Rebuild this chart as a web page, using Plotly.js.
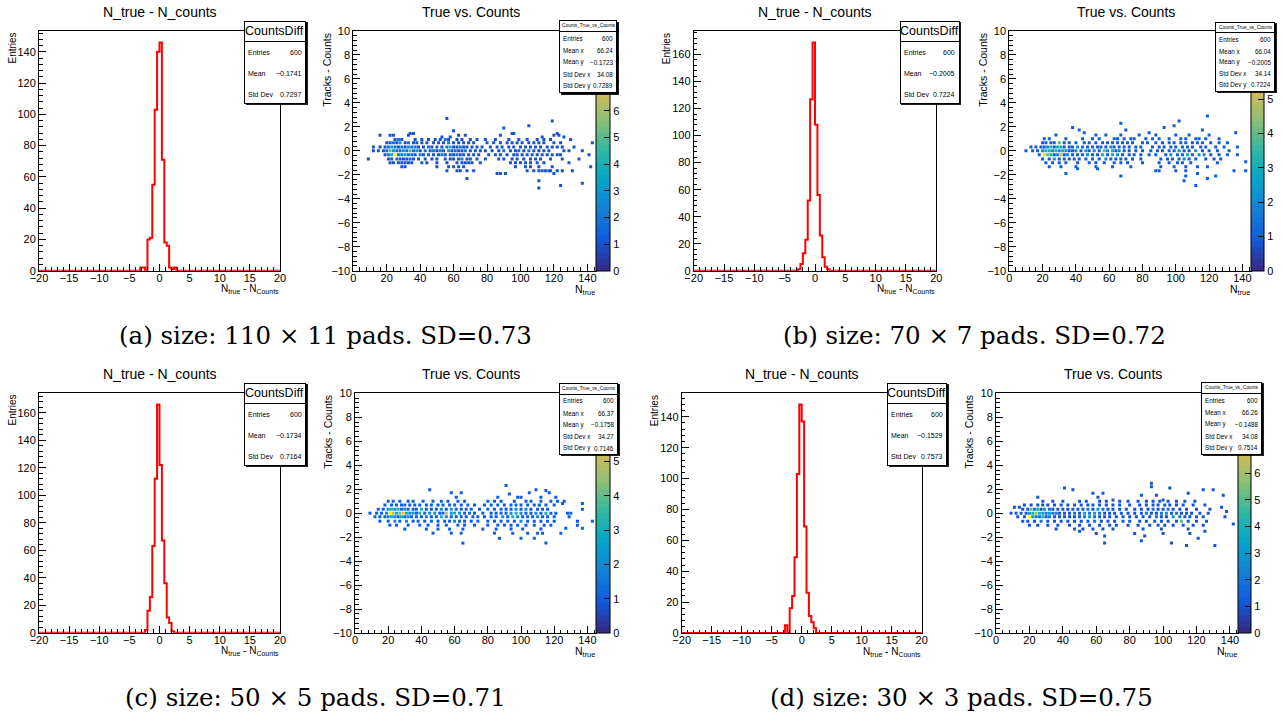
<!DOCTYPE html>
<html>
<head>
<meta charset="utf-8">
<script src="https://cdn.plot.ly/plotly-3.0.1.min.js"></script>
<style>html,body{margin:0;padding:0;background:#fff;}#chart{width:1283px;height:722px;}</style>
</head>
<body>
<div id="chart"></div>
<script>
// ================= DATA =================
const histBinWidth = 0.4; // 100 bins on [-20, 20]
const histA_left  = [-3.2, -2.8, -2.0, -1.6, -1.2, -0.8, -0.4, 0.0, 0.4, 0.8, 1.2, 1.6, 2.0, 2.4];
const histA_count = [2, 2, 20, 21, 55, 103, 140, 146, 71, 18, 16, 2, 1, 2];
const histB_left  = [-2.8, -2.4, -2.0, -1.6, -1.2, -0.8, -0.4, 0.0, 0.4, 0.8, 1.2, 1.6, 2.0];
const histB_count = [1, 5, 13, 23, 52, 127, 169, 108, 56, 26, 10, 3, 1];
const histC_left  = [-2.4, -2.0, -1.6, -1.2, -0.8, -0.4, 0.0, 0.4, 0.8, 1.2, 1.6, 2.0];
const histC_count = [2, 16, 26, 63, 112, 166, 122, 67, 36, 11, 7, 1];
const histD_left  = [-2.8, -2.0, -1.6, -1.2, -0.8, -0.4, 0.0, 0.4, 0.8, 1.2, 1.6, 2.0];
const histD_count = [5, 16, 24, 49, 103, 148, 137, 69, 26, 11, 7, 3];

// 2D "True vs. Counts": cells with one entry, grouped by row (y value)
const rowsA_y = [2.7, 2.5, 2.1, 1.9, 1.67, 1.45, 1.3, 1.15, 0.95, 0.67, 0.33, 0, -0.33, -0.67, -1.0, -1.33, -1.67, -1.9, -2.3, -2.5, -2.7, -2.9, -3.1];
const rowsA_x = [
  [56], [119], [105], [90], [60],
  [34, 36, 95, 96, 122],
  [16, 22, 24, 33, 63, 67, 88, 120, 123],
  [53, 58, 113, 126],
  [25, 29, 37, 41, 45, 49, 52, 57, 62, 65, 70, 74, 79, 85, 93, 99, 104, 110, 114, 118, 130],
  [20, 22, 26, 31, 36, 38, 41, 44, 48, 51, 54, 60, 63, 66, 69, 72, 80, 84, 88, 92, 95, 98, 101, 105, 108, 111, 114, 120, 124, 143],
  [12, 16, 19, 27, 31, 39, 42, 47, 50, 53, 60, 62, 66, 68, 71, 74, 77, 82, 86, 89, 93, 96, 100, 103, 106, 109, 112, 116, 119, 122, 125, 132],
  [12, 15, 18, 40, 46, 50, 54, 59, 63, 65, 70, 73, 76, 79, 83, 87, 94, 97, 102, 108, 111, 114, 117, 126, 129, 137],
  [19, 37, 42, 45, 48, 51, 55, 58, 60, 64, 66, 69, 72, 75, 81, 85, 88, 92, 96, 98, 101, 104, 107, 110, 113, 116, 119, 122, 124, 141],
  [9, 21, 23, 28, 30, 32, 36, 39, 43, 47, 50, 55, 58, 60, 63, 68, 70, 74, 79, 87, 90, 95, 98, 102, 106, 109, 112, 118, 125, 135],
  [22, 24, 27, 29, 31, 33, 35, 41, 44, 50, 56, 62, 65, 67, 69, 71, 76, 94, 97, 100, 103, 106, 110, 114, 129],
  [29, 31, 50, 57, 60, 63, 66, 97, 103, 106, 111, 119, 142],
  [56, 62, 64, 68, 72, 104, 108, 111, 113, 115, 117, 118, 122, 125, 131],
  [86, 88, 91, 120],
  [68], [111], [137], [124], [111]
];
// cells with more than one entry
const hotA_x = [27, 55, 24, 28, 33, 57, 21, 23, 25, 29, 33, 35, 37, 45, 56, 58, 64, 20, 22, 24, 26, 28, 30, 32, 34, 36, 38, 43, 48, 52, 57, 61, 67, 90, 99, 105, 21, 23, 25, 27, 29, 31, 33, 35, 40, 53, 62, 26, 34, 65];
const hotA_y = [0.95, 0.95, 0.67, 0.67, 0.67, 0.67, 0.33, 0.33, 0.33, 0.33, 0.33, 0.33, 0.33, 0.33, 0.33, 0.33, 0.33, 0, 0, 0, 0, 0, 0, 0, 0, 0, 0, 0, 0, 0, 0, 0, 0, 0, 0, 0, -0.33, -0.33, -0.33, -0.33, -0.33, -0.33, -0.33, -0.33, -0.33, -0.33, -0.33, -0.67, -0.67, -0.67];
const hotA_z = [2, 2, 2, 3, 2, 2, 2, 3, 2, 2, 3, 2, 2, 2, 2, 4, 2, 2, 5, 3, 2, 2, 3, 2, 5, 2, 3, 2, 2, 2, 3, 2, 2, 2, 2, 2, 2, 3, 9, 2, 2, 3, 2, 2, 2, 2, 2, 2, 2, 2];

const rowsB_y = [2.9, 2.5, 2.3, 2.1, 1.95, 1.75, 1.5, 1.33, 1.0, 0.67, 0.33, 0, -0.33, -0.67, -0.9, -1.0, -1.33, -1.5, -1.67, -1.9, -2.1, -2.3, -2.5, -2.9];
const rowsB_x = [
  [119], [102], [67], [99], [38, 93], [42, 70, 116], [45, 84, 136],
  [28, 52, 58, 67, 78, 88, 100, 108, 120],
  [21, 24, 34, 44, 50, 54, 63, 65, 69, 73, 75, 82, 86, 90, 96, 103, 106, 112, 114, 118, 126],
  [20, 22, 25, 27, 33, 36, 40, 45, 48, 52, 56, 59, 62, 65, 68, 71, 74, 80, 83, 88, 92, 96, 99, 103, 106, 110, 113, 116, 121, 126, 131],
  [13, 16, 19, 21, 27, 33, 36, 38, 44, 47, 50, 53, 55, 58, 63, 66, 69, 72, 76, 79, 86, 90, 93, 97, 100, 104, 107, 110, 115, 118, 124, 129, 137],
  [10, 14, 17, 36, 38, 43, 48, 54, 64, 69, 72, 76, 80, 85, 89, 92, 96, 99, 105, 108, 116, 120, 125, 132],
  [18, 27, 33, 38, 41, 44, 50, 53, 59, 68, 72, 75, 79, 84, 88, 94, 101, 104, 110, 121, 126, 131, 137],
  [20, 24, 30, 33, 36, 39, 42, 46, 50, 54, 61, 64, 67, 70, 74, 79, 91, 95, 98, 102, 108, 112, 118, 123, 127],
  [142],
  [22, 26, 30, 34, 41, 48, 52, 57, 63, 67, 71, 80, 90, 96, 101, 104, 109, 125],
  [24, 31, 40, 52, 62, 73, 91, 99, 106, 113, 119],
  [41, 53],
  [88, 90, 100, 106, 135, 142],
  [34, 113],
  [67, 106, 124],
  [119], [105], [112]
];
const hotB_x = [30, 23, 25, 29, 31, 41, 61, 20, 22, 24, 26, 28, 30, 32, 34, 40, 46, 51, 57, 59, 62, 66, 102, 112, 21, 23, 25, 29, 31, 35, 47, 56, 62, 65, 97, 107, 114, 117, 27, 58, 105];
const hotB_y = [0.67, 0.33, 0.33, 0.33, 0.33, 0.33, 0.33, 0, 0, 0, 0, 0, 0, 0, 0, 0, 0, 0, 0, 0, 0, 0, 0, 0, -0.33, -0.33, -0.33, -0.33, -0.33, -0.33, -0.33, -0.33, -0.33, -0.33, -0.33, -0.33, -0.33, -0.33, -0.67, -0.67, -0.67];
const hotB_z = [4, 2, 3, 3, 3, 2, 2, 2, 3, 3, 2, 3, 2, 3, 2, 2, 2, 2, 4, 2, 3, 2, 2, 2, 6, 4, 3, 2, 5, 2, 2, 3, 3, 2, 2, 3, 2, 2, 2, 2, 2];

const rowsC_y = [2.3, 1.95, 1.9, 1.7, 1.6, 1.33, 1.0, 0.8, 0.67, 0.33, 0, -0.3, -0.67, -1.0, -1.25, -1.33, -1.67, -2.1, -2.5];
const rowsC_x = [
  [91], [45, 109], [115], [58, 64, 105, 117], [93], [61, 86, 98, 100, 112, 121],
  [20, 23, 27, 32, 35, 41, 47, 52, 56, 62, 66, 80, 84, 88, 96, 103, 106, 112, 118, 122, 126],
  [125, 137],
  [18, 22, 25, 28, 30, 33, 36, 39, 43, 46, 50, 53, 57, 60, 64, 68, 72, 78, 82, 86, 90, 94, 97, 100, 104, 108, 111, 115, 120],
  [14, 17, 28, 32, 35, 37, 43, 46, 49, 55, 61, 64, 67, 70, 75, 80, 84, 88, 91, 94, 100, 106, 110, 113, 116, 137],
  [9, 13, 16, 37, 42, 51, 53, 66, 69, 72, 77, 82, 85, 88, 91, 103, 106, 112, 118, 121, 128, 130],
  [12, 15, 18, 26, 30, 34, 37, 40, 46, 49, 58, 61, 64, 67, 71, 74, 78, 82, 85, 92, 101, 104, 107, 113, 116, 120, 129],
  [15, 20, 27, 35, 38, 42, 46, 50, 54, 57, 63, 66, 70, 74, 80, 84, 88, 92, 96, 104, 108, 112, 116, 120, 134, 143],
  [21, 25, 32, 39, 44, 50, 55, 62, 66, 72, 80, 86, 90, 94, 98, 103, 108, 114, 118, 134],
  [127, 137],
  [30, 43, 50, 57, 65, 77, 85, 94, 101, 112],
  [47, 58, 64, 84, 95, 104, 110, 113, 124],
  [87, 100, 108],
  [65, 115]
];
const hotC_x = [20, 22, 24, 26, 30, 40, 52, 58, 97, 103, 19, 21, 23, 25, 27, 29, 31, 33, 35, 39, 45, 48, 55, 58, 60, 63, 94, 97, 100, 109, 115, 20, 22, 24, 28, 32, 43, 52, 55, 89, 95, 98, 110, 24, 31, 60, 100];
const hotC_y = [0.33, 0.33, 0.33, 0.33, 0.33, 0.33, 0.33, 0.33, 0.33, 0.33, 0, 0, 0, 0, 0, 0, 0, 0, 0, 0, 0, 0, 0, 0, 0, 0, 0, 0, 0, 0, 0, -0.3, -0.3, -0.3, -0.3, -0.3, -0.3, -0.3, -0.3, -0.3, -0.3, -0.3, -0.3, -0.67, -0.67, -0.67, -0.67];
const hotC_z = [2, 3, 2, 3, 2, 3, 2, 2, 2, 2, 2, 7, 5, 3, 4, 6, 3, 2, 2, 3, 2, 2, 5, 2, 3, 2, 2, 3, 2, 2, 3, 2, 3, 2, 3, 2, 2, 3, 2, 2, 3, 2, 2, 2, 2, 2, 2];

const rowsD_y = [2.5, 2.2, 2.1, 1.95, 1.67, 1.5, 1.33, 1.1, 1.0, 0.67, 0.5, 0.33, 0.14, 0, -0.3, -0.67, -0.9, -1.0, -1.33, -1.5, -1.7, -1.9, -2.1, -2.3, -2.5, -2.7];
const rowsD_x = [
  [93], [93], [41, 104], [46, 124, 130], [58, 64, 115], [87, 96, 136], [25, 61], [70, 100],
  [28, 34, 40, 50, 54, 62, 66, 74, 79, 85, 90, 94, 98, 103, 108, 113, 119],
  [17, 21, 25, 28, 31, 35, 39, 43, 47, 51, 55, 58, 62, 66, 70, 74, 80, 86, 90, 94, 97, 101, 104, 108, 112, 118, 125],
  [11, 14, 135],
  [16, 19, 27, 34, 37, 40, 43, 46, 49, 52, 58, 67, 70, 74, 78, 83, 87, 91, 97, 100, 106, 110, 114, 120, 128],
  [138],
  [9, 12, 15, 18, 38, 41, 44, 50, 65, 68, 71, 75, 79, 83, 87, 93, 96, 105, 111, 114, 117, 122, 127],
  [13, 17, 30, 35, 38, 41, 44, 47, 50, 62, 65, 68, 72, 76, 80, 84, 88, 92, 99, 102, 113, 116, 120, 124, 137],
  [16, 19, 23, 31, 35, 39, 43, 47, 51, 55, 63, 67, 71, 76, 80, 86, 90, 95, 99, 103, 108, 115, 120, 126],
  [142],
  [20, 25, 31, 37, 44, 50, 56, 62, 68, 72, 79, 85, 92, 97, 101, 106, 112, 118, 124],
  [36, 47, 52, 58, 64, 70, 88, 99, 115],
  [50, 125],
  [60, 83, 100, 116],
  [65, 89],
  [121], [87], [65, 105], [114, 131]
];
const hotD_x = [21, 23, 25, 29, 32, 55, 61, 64, 94, 103, 20, 22, 24, 26, 28, 30, 32, 34, 36, 47, 53, 56, 59, 62, 90, 99, 102, 108, 20, 22, 24, 26, 28, 32, 53, 56, 59, 96, 106, 110, 27, 59, 111];
const hotD_y = [0.33, 0.33, 0.33, 0.33, 0.33, 0.33, 0.33, 0.33, 0.33, 0.33, 0, 0, 0, 0, 0, 0, 0, 0, 0, 0, 0, 0, 0, 0, 0, 0, 0, 0, -0.3, -0.3, -0.3, -0.3, -0.3, -0.3, -0.3, -0.3, -0.3, -0.3, -0.3, -0.3, -0.67, -0.67, -0.67];
const hotD_z = [5, 2, 4, 3, 2, 2, 3, 2, 2, 2, 3, 4, 6, 4, 3, 2, 3, 2, 2, 2, 3, 2, 3, 2, 2, 2, 3, 2, 9, 3, 2, 2, 4, 2, 2, 3, 2, 2, 3, 2, 2, 2, 5];

const zMax = [9, 7, 7, 9];

// texts
const histTitle = 'N_true - N_counts';
const scatTitle = 'True vs. Counts';
const histXTitle = 'N<sub>true</sub> - N<sub>Counts</sub>';
const histYTitle = 'Entries';
const scatXTitle = 'N<sub>true</sub>';
const scatYTitle = 'Tracks - Counts';
const histStatsName = 'CountsDiff';
const scatStatsName = 'Counts_True_vs_Counts';
const histStatsLabels = ['Entries', 'Mean', 'Std Dev'];
const scatStatsLabels = ['Entries', 'Mean x', 'Mean y', 'Std Dev x', 'Std Dev y'];
const statsA_h = ['600', '\u22120.1741', '0.7297'];
const statsA_s = ['600', '66.24', '\u22120.1723', '34.08', '0.7289'];
const statsB_h = ['600', '\u22120.2005', '0.7224'];
const statsB_s = ['600', '66.04', '\u22120.2005', '34.14', '0.7224'];
const statsC_h = ['600', '\u22120.1734', '0.7164'];
const statsC_s = ['600', '66.37', '\u22120.1758', '34.27', '0.7146'];
const statsD_h = ['600', '\u22120.1529', '0.7573'];
const statsD_s = ['600', '66.26', '\u22120.1488', '34.08', '0.7514'];
const captions = [
  '(a) size: 110 \u00d7 11 pads. SD=0.73',
  '(b) size: 70 \u00d7 7 pads. SD=0.72',
  '(c) size: 50 \u00d7 5 pads. SD=0.71',
  '(d) size: 30 \u00d7 3 pads. SD=0.75'
];

// ================= DRAWING =================
const W = 1283, H = 722;
const FONT = "'Liberation Sans', Arial, Helvetica, sans-serif";
const SERIF = "'DejaVu Serif', 'Liberation Serif', serif";
const PX = v => v / W;
const PY = v => 1 - v / H;

// ROOT kBird palette, banded like ROOT contours
const BIRD = [[0.2082,0.1664,0.5293],[0.0592,0.3599,0.8684],[0.0780,0.5041,0.8385],[0.0232,0.6419,0.7914],[0.1802,0.7178,0.6425],[0.5301,0.7492,0.4662],[0.8186,0.7328,0.3499],[0.9956,0.7862,0.1968],[0.9764,0.9832,0.0539]];
function bird(t) {
  const s = t * (BIRD.length - 1);
  const i = Math.min(Math.floor(s), BIRD.length - 2);
  const f = s - i;
  const c = BIRD[i].map((v, k) => Math.round(255 * (v + (BIRD[i + 1][k] - v) * f)));
  return 'rgb(' + c.join(',') + ')';
}
function bandScale(n) {
  const s = [];
  for (let i = 0; i < n; i++) {
    const c = bird(i / (n - 1));
    s.push([i / n, c], [(i + 1) / n, c]);
  }
  return s;
}
const SCALE = bandScale(40);

// frames [left, right, top, bottom] in px
const FR = {
  aH: [39, 280, 31, 270.7], aS: [353.3, 595.7, 31, 270.7],
  bH: [693.7, 936.3, 31, 270.7], bS: [1009.3, 1250.7, 31, 270.7],
  cH: [39, 280, 393, 632.7], cS: [355, 595.7, 393.3, 633],
  dH: [681.7, 921.7, 393, 633], dS: [996, 1238.3, 393.3, 633]
};
const CB = { a: [595.7, 610], b: [1250.7, 1263.3], c: [595.7, 610], d: [1238.3, 1251.7] };

function baseAxis(extra) {
  return Object.assign({
    showline: true, mirror: true, linecolor: '#000', linewidth: 1,
    showgrid: false, zeroline: false, ticks: 'inside', ticklen: 7, tickwidth: 1, tickcolor: '#000',
    tickfont: { family: FONT, size: 11, color: '#000' }, automargin: false, fixedrange: true, tickangle: 0
  }, extra);
}

const traces = [];
const layout = {
  width: W, height: H, margin: { l: 0, r: 0, t: 0, b: 0 },
  paper_bgcolor: '#fff', plot_bgcolor: '#fff', showlegend: false,
  annotations: []
};
const ann = layout.annotations;

function T(text, x, y, o) {
  const a = {
    text: text, x: PX(x), y: PY(y), xref: 'paper', yref: 'paper', showarrow: false,
    xanchor: 'center', yanchor: 'middle', borderpad: 0,
    font: { family: FONT, size: 11, color: '#000' }
  };
  return Object.assign(a, o || {});
}
function box(l, t, r, b, bg, bw) {
  ann.push(T(' ', l, t, { xanchor: 'left', yanchor: 'top', width: Math.max(1, r - l - 2 * bw), height: Math.max(1, b - t - 2 * bw),
    bgcolor: bg, bordercolor: '#000', borderwidth: bw, font: { family: FONT, size: 1, color: '#000' } }));
}

function addHist(idx, fr, lefts, counts, stats, statBox) {
  const xa = 'x' + idx, ya = 'y' + idx;
  const n = Math.round(40 / histBinWidth);
  const c = new Array(n).fill(0);
  lefts.forEach((l, i) => { c[Math.round((l + 20) / histBinWidth)] = counts[i]; });
  const x = [], y = [];
  for (let i = 0; i < n; i++) { x.push(-20 + i * histBinWidth); y.push(c[i]); }
  x.push(20); y.push(c[n - 1]);
  traces.push({ type: 'scatter', mode: 'lines', x: x, y: y, xaxis: xa, yaxis: ya,
    line: { shape: 'hv', color: '#ff0000', width: 2 }, hoverinfo: 'skip' });
  const ymax = Math.max.apply(null, counts) * 1.05;
  layout['xaxis' + idx] = baseAxis({ domain: [PX(fr[0]), PX(fr[1])], anchor: ya, range: [-20, 20], dtick: 5, tick0: 0,
    ticklabelstandoff: -3,
    minor: { dtick: 1, tick0: 0, ticks: 'inside', ticklen: 3.5, tickwidth: 1, tickcolor: '#000', showgrid: false } });
  layout['yaxis' + idx] = baseAxis({ domain: [PY(fr[3]), PY(fr[2])], anchor: xa, range: [0, ymax], dtick: 20, tick0: 0,
    minor: { dtick: 4, tick0: 0, ticks: 'inside', ticklen: 3.5, tickwidth: 1, tickcolor: '#000', showgrid: false } });
  // titles
  ann.push(T(histTitle, (fr[0] + fr[1]) / 2, fr[2] - 19, { font: { family: FONT, size: 14, color: '#000' } }));
  ann.push(T(histXTitle, fr[1], fr[3] + 18.5, { xanchor: 'right', font: { family: FONT, size: 10, color: '#000' } }));
  ann.push(T(histYTitle, fr[0] - 27, fr[2] + 1, { textangle: -90, yanchor: 'top', font: { family: FONT, size: 10, color: '#000' } }));
  // stats box
  const [l, r, t, b] = statBox;
  const h = b - t;
  box(l + 1.5, t + 1.5, r + 1.5, b + 1.5, '#000', 0.5);
  box(l, t, r, b, '#fff', 1);
  box(l, t, r, t + h * 0.252, 'rgba(0,0,0,0)', 1);
  ann.push(T(histStatsName, (l + r) / 2, t + h * 0.128, { font: { family: FONT, size: 12.5, color: '#000' } }));
  [0.379, 0.631, 0.883].forEach((f, i) => {
    ann.push(T(histStatsLabels[i], l + 3, t + h * f, { xanchor: 'left', font: { family: FONT, size: 7, color: '#000' } }));
    ann.push(T(stats[i], r - 3, t + h * f, { xanchor: 'right', font: { family: FONT, size: 7, color: '#000' } }));
  });
}

function addScat(idx, fr, cb, rowsY, rowsX, hx, hy, hz, zmax, stats, statBox) {
  const xa = 'x' + idx, ya = 'y' + idx;
  const x = [], y = [], z = [];
  rowsY.forEach((yy, i) => rowsX[i].forEach(xx => { x.push(xx); y.push(yy); z.push(1); }));
  const order = hz.map((v, i) => i).sort((a, b) => hz[a] - hz[b]);
  order.forEach(i => { x.push(hx[i]); y.push(hy[i]); z.push(hz[i]); });
  const tv = []; for (let k = 0; k <= zmax; k++) tv.push(k);
  traces.push({ type: 'scatter', mode: 'markers', x: x, y: y, xaxis: xa, yaxis: ya, hoverinfo: 'skip',
    marker: { symbol: 'square', size: 3, color: z, colorscale: SCALE, cmin: 0, cmax: zmax, line: { width: 0 },
      showscale: true,
      colorbar: { x: PX(cb[0]), xanchor: 'left', xref: 'paper', y: PY(fr[3]), yanchor: 'bottom', yref: 'paper',
        len: fr[3] - fr[2], lenmode: 'pixels', thickness: cb[1] - cb[0], thicknessmode: 'pixels',
        xpad: 0, ypad: 0, outlinewidth: 1, outlinecolor: '#000', borderwidth: 0,
        tickmode: 'array', tickvals: tv, ticks: 'inside', ticklen: 6, tickwidth: 1, tickcolor: '#000',
        tickfont: { family: FONT, size: 11, color: '#000' } } } });
  layout['xaxis' + idx] = baseAxis({ domain: [PX(fr[0]), PX(fr[1])], anchor: ya, range: [0, 145], dtick: 20, tick0: 0,
    ticklabelstandoff: -3,
    minor: { dtick: 4, tick0: 0, ticks: 'inside', ticklen: 3.5, tickwidth: 1, tickcolor: '#000', showgrid: false } });
  layout['yaxis' + idx] = baseAxis({ domain: [PY(fr[3]), PY(fr[2])], anchor: xa, range: [-10, 10], dtick: 2, tick0: 0,
    minor: { dtick: 0.4, tick0: 0, ticks: 'inside', ticklen: 3.5, tickwidth: 1, tickcolor: '#000', showgrid: false } });
  ann.push(T(scatTitle, (fr[0] + fr[1]) / 2 - 4, fr[2] - 19, { font: { family: FONT, size: 14, color: '#000' } }));
  ann.push(T(scatXTitle, fr[1], fr[3] + 19, { xanchor: 'right', font: { family: FONT, size: 10.5, color: '#000' } }));
  ann.push(T(scatYTitle, fr[0] - 26.5, fr[2] + 1, { textangle: -90, yanchor: 'top', font: { family: FONT, size: 10.5, color: '#000' } }));
  const [l, r, t, b] = statBox;
  const h = b - t;
  box(l + 1.5, t + 1.5, r + 1.5, b + 1.5, '#000', 0.5);
  box(l, t, r, b, '#fff', 1);
  box(l, t, r, t + h * 0.161, 'rgba(0,0,0,0)', 1);
  ann.push(T(scatStatsName, (l + r) / 2, t + h * 0.079, { font: { family: FONT, size: 4.8, color: '#000' } }));
  [0.252, 0.422, 0.582, 0.743, 0.904].forEach((f, i) => {
    ann.push(T(scatStatsLabels[i], l + 3, t + h * f, { xanchor: 'left', font: { family: FONT, size: 6.3, color: '#000' } }));
    ann.push(T(stats[i], r - 3, t + h * f, { xanchor: 'right', font: { family: FONT, size: 6.3, color: '#000' } }));
  });
}

addHist('', FR.aH, histA_left, histA_count, statsA_h, [244, 305.7, 20.7, 104]);
addScat(2, FR.aS, CB.a, rowsA_y, rowsA_x, hotA_x, hotA_y, hotA_z, zMax[0], statsA_s, [559.3, 617.3, 20, 92.7]);
addHist(3, FR.bH, histB_left, histB_count, statsB_h, [899.7, 959.3, 20.7, 104]);
addScat(4, FR.bS, CB.b, rowsB_y, rowsB_x, hotB_x, hotB_y, hotB_z, zMax[1], statsB_s, [1215, 1275, 21.7, 91.7]);
addHist(5, FR.cH, histC_left, histC_count, statsC_h, [244, 305.7, 382.7, 466]);
addScat(6, FR.cS, CB.c, rowsC_y, rowsC_x, hotC_x, hotC_y, hotC_z, zMax[2], statsC_s, [559.3, 618.3, 382.7, 455]);
addHist(7, FR.dH, histD_left, histD_count, statsD_h, [887, 946.5, 382.7, 466]);
addScat(8, FR.dS, CB.d, rowsD_y, rowsD_x, hotD_x, hotD_y, hotD_z, zMax[3], statsD_s, [1201, 1262.3, 381.7, 455]);

// captions
[[325, 335], [974, 335], [315, 697], [961, 697]].forEach((p, i) => {
  ann.push(T(captions[i], p[0], p[1], { font: { family: SERIF, size: 24.5, color: '#000' } }));
});

Plotly.newPlot('chart', traces, layout, { staticPlot: true, displayModeBar: false });
</script>
</body>
</html>
